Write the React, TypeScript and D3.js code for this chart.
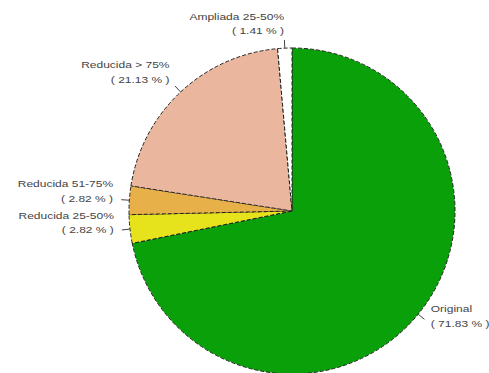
import React from "react";
import * as d3 from "d3";

const categories = ["Original", "Reducida 25-50%", "Reducida 51-75%", "Reducida > 75%", "Ampliada 25-50%"];
const percents = [71.83, 2.82, 2.82, 21.13, 1.41];
const colors = ["#0aa00a", "#e6e21c", "#e8b048", "#ebb69e", "#ffffff"];

const W = 489;
const H = 373;
const cx = 292;
const cy = 211;
const R = 163;

export default function App() {
  const pie = d3.pie<number>().sort(null).value((d) => d)(percents);
  const arc = d3.arc<d3.PieArcDatum<number>>().innerRadius(0).outerRadius(R);
  return (
    <svg width={W} height={H} style={{ position: "absolute", left: 0, top: 0, background: "#fff" }}>
      <g transform={`translate(${cx},${cy})`}>
        {pie.map((p, i) => (
          <path
            key={i}
            d={arc(p) || ""}
            fill={colors[i]}
            stroke="#222"
            strokeWidth={1}
            strokeDasharray="4,2"
          />
        ))}
        {pie.map((p, i) => {
          const a = (p.startAngle + p.endAngle) / 2;
          const sx = Math.sin(a);
          const sy = -Math.cos(a);
          const ax = 1.1 * R * sx;
          const ay = 1.1 * R * sy;
          const anchor = sx < 0 ? "end" : "start";
          return (
            <g key={"l" + i}>
              <line x1={R * sx} y1={R * sy} x2={1.05 * R * sx} y2={1.05 * R * sy} stroke="#444" strokeWidth={1} />
              <g transform={`translate(${ax},${ay}) scale(1,0.78)`}>
                <text
                  x={0}
                  y={-19}
                  textAnchor={anchor}
                  dominantBaseline="middle"
                  fontFamily="Liberation Sans, Arial, sans-serif"
                  fontSize={12}
                  fill="#444"
                >
                  {categories[i]}
                </text>
                <text
                  x={0}
                  y={0}
                  textAnchor={anchor}
                  dominantBaseline="middle"
                  fontFamily="Liberation Sans, Arial, sans-serif"
                  fontSize={12}
                  fill="#444"
                >
                  {`( ${percents[i].toFixed(2)} % )`}
                </text>
              </g>
            </g>
          );
        })}
      </g>
    </svg>
  );
}
